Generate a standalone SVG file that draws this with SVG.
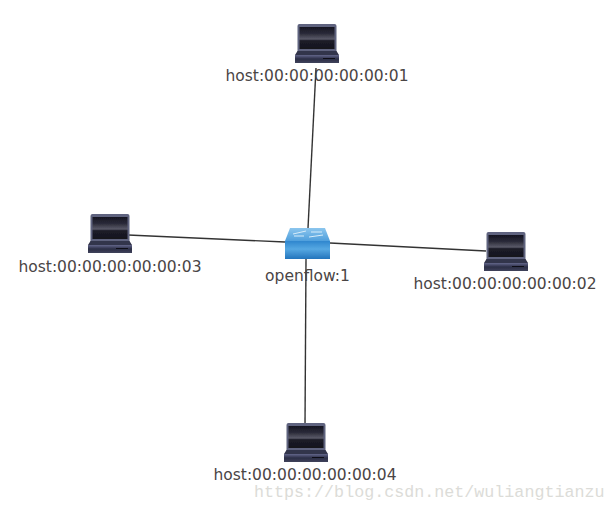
<svg xmlns="http://www.w3.org/2000/svg" width="615" height="511" viewBox="0 0 615 511">
<style>
text{font-family:"DejaVu Sans","Liberation Sans",sans-serif;font-size:15.5px;fill:#4a4545;text-anchor:middle}
.wm{font-family:"Liberation Mono",monospace;font-size:16.7px;fill:#dcdcd8;text-anchor:start}
#links line{stroke:#333;stroke-width:1.4}
.ic{filter:url(#soft)}
</style>
<defs>
<filter id="soft" x="-10%" y="-10%" width="120%" height="120%"><feGaussianBlur stdDeviation="0.45"/></filter>
<linearGradient id="scr" x1="0" y1="0" x2="0" y2="1"><stop offset="0" stop-color="#14141f"/><stop offset=".3" stop-color="#2c2c3a"/><stop offset=".55" stop-color="#5a5a68"/><stop offset=".62" stop-color="#1c1c28"/><stop offset="1" stop-color="#14141d"/></linearGradient>
<linearGradient id="bs" x1="0" y1="0" x2="0" y2="1"><stop offset="0" stop-color="#62668a"/><stop offset=".5" stop-color="#2c2e46"/><stop offset="1" stop-color="#40425c"/></linearGradient>
<linearGradient id="sw" x1="0" y1="0" x2="0" y2="1"><stop offset="0" stop-color="#2f86ce"/><stop offset=".45" stop-color="#56a8e2"/><stop offset="1" stop-color="#2274bc"/></linearGradient>
<linearGradient id="swt" x1="0" y1="0" x2="0" y2="1"><stop offset="0" stop-color="#8cc6ee"/><stop offset="1" stop-color="#4f9fdc"/></linearGradient>
<g id="laptop">
<path d="M2.500 2Q2.500 0 4.500 0H39.500Q41.500 0 41.500 2V30H2.500Z" fill="#5f637f"/>
<rect x="4.500" y="3" width="35" height="22" fill="url(#scr)"/>
<path d="M2.500 27H41.500L44 31H0Z" fill="#33354c"/>
<rect x="0" y="31" width="44" height="8" fill="url(#bs)"/>
<rect x="28" y="34" width="12" height="1" fill="#0e0e16"/>
</g>
</defs>
<rect width="615" height="511" fill="#fff"/>
<g id="links">
<line x1="308" y1="228" x2="316" y2="68"/>
<line x1="285" y1="242" x2="128" y2="235"/>
<line x1="330" y1="243" x2="486" y2="251"/>
<line x1="306" y1="259" x2="305" y2="425"/>
</g>
<g id="host1"><use class="ic" href="#laptop" x="295" y="24"/><text x="317" y="81">host:00:00:00:00:00:01</text></g>
<g id="host3"><use class="ic" href="#laptop" x="88" y="214"/><text x="110" y="272">host:00:00:00:00:00:03</text></g>
<g id="host2"><use class="ic" href="#laptop" x="484" y="232"/><text x="505" y="289">host:00:00:00:00:00:02</text></g>
<g id="host4"><use class="ic" href="#laptop" x="284" y="423"/><text x="305" y="480">host:00:00:00:00:00:04</text></g>
<g id="switch">
<g class="ic">
<path d="M290 228H325L330 241H285Z" fill="url(#swt)"/>
<path d="M293 234L306 231M311 232H322M294 236H304M309 237L323 235" stroke="#d6ecfa" stroke-width="1" fill="none"/>
<rect x="285" y="241" width="45" height="18" fill="url(#sw)"/>
</g>
<text x="307.500" y="281">openflow:1</text>
</g>
<text class="wm" x="254" y="497">https://blog.csdn.net/wuliangtianzu</text>
</svg>
